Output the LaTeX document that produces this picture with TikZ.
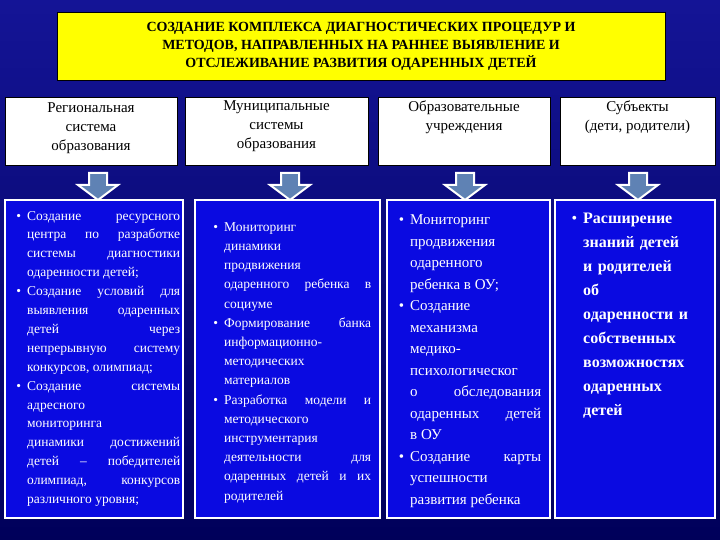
\documentclass[tikz,border=0pt]{standalone}
\usepackage{fontspec}
\setmainfont{Liberation Serif}
\usepackage{enumitem}
\definecolor{bgtop}{RGB}{20,20,150}
\definecolor{bgbot}{RGB}{0,0,90}
\definecolor{boxblue}{RGB}{10,10,225}
\definecolor{arrfill}{RGB}{95,130,180}
\definecolor{ttl}{RGB}{255,255,0}
\tikzset{
 hdr/.style={draw=black,fill=white,line width=0.6pt,inner sep=0pt},
 hdrtext/.style={anchor=north,align=center,font=\fontsize{15}{19}\selectfont,inner sep=0pt},
 colbox/.style={draw=white,fill=boxblue,line width=2.5pt,inner sep=0pt},
 coltext/.style={anchor=north west,text=white,inner sep=0pt,align=justify},
 arr/.style={draw=white,fill=arrfill,line width=2pt,line join=miter}
}
\newcommand{\arrowat}[1]{%
 \draw[arr] (#1-9,367) -- (#1+9,367) -- (#1+9,355) -- (#1+20,355) -- (#1,340) -- (#1-20,355) -- (#1-9,355) -- cycle;}
\newenvironment{blist}[1]{\begin{itemize}[leftmargin=#1,labelsep=6pt,itemsep=0pt,topsep=0pt,parsep=0pt,partopsep=0pt]}{\end{itemize}}
\begin{document}
\begin{tikzpicture}[x=1pt,y=1pt]
\shade[top color=bgtop,bottom color=bgbot] (0,0) rectangle (720,540);
\useasboundingbox (0,0) rectangle (720,540);
\node[draw=black,fill=ttl,line width=0.8pt,minimum width=608,minimum height=68,align=center,
 font=\bfseries\fontsize{14}{18}\selectfont] (title) at (361,494)
 {СОЗДАНИЕ КОМПЛЕКСА ДИАГНОСТИЧЕСКИХ ПРОЦЕДУР И\\МЕТОДОВ, НАПРАВЛЕННЫХ НА РАННЕЕ ВЫЯВЛЕНИЕ И\\ОТСЛЕЖИВАНИЕ РАЗВИТИЯ ОДАРЕННЫХ ДЕТЕЙ};
\node[hdr,minimum width=172,minimum height=68] (h1) at (91,409) {};
\node[hdr,minimum width=183,minimum height=68] (h2) at (276.5,409) {};
\node[hdr,minimum width=172,minimum height=68] (h3) at (464,409) {};
\node[hdr,minimum width=155,minimum height=68] (h4) at (637.5,409) {};
\node[hdrtext] (l1) at ([yshift=-6]h1.north) {Региональная\\система\\образования};
\node[hdrtext] (l2) at ([yshift=-4]h2.north) {Муниципальные\\системы\\образования};
\node[hdrtext] (l3) at ([yshift=-4]h3.north) {Образовательные\\учреждения};
\node[hdrtext] (l4) at ([yshift=-4]h4.north) {Субъекты\\(дети, родители)};
\arrowat{98}\arrowat{290}\arrowat{465}\arrowat{638}
\node[colbox,minimum width=178,minimum height=318] (c1) at (94,181) {};
\node[colbox,minimum width=185,minimum height=318] (c2) at (287.5,181) {};
\node[colbox,minimum width=163,minimum height=318] (c3) at (468.5,181) {};
\node[colbox,minimum width=160,minimum height=318] (c4) at (635,181) {};
\node[coltext,text width=167,font=\fontsize{13.5}{18.9}\selectfont] (t1) at (13,339) {\begin{blist}{14pt}
\item Создание ресурсного\linebreak центра по разработке\linebreak системы диагностики\linebreak одаренности детей;
\item Создание условий для\linebreak выявления одаренных\linebreak детей через\linebreak непрерывную систему\linebreak конкурсов, олимпиад;
\item Создание системы\linebreak адресного\newline мониторинга\newline динамики достижений\linebreak детей – победителей\linebreak олимпиад, конкурсов\linebreak различного уровня;
\end{blist}};
\node[coltext,text width=160,font=\fontsize{13.5}{19.2}\selectfont] (t2) at (211,328) {\begin{blist}{13pt}
\item Мониторинг\newline динамики\newline продвижения\newline одаренного ребенка в\linebreak социуме
\item Формирование банка\linebreak информационно-\newline методических\newline материалов
\item Разработка модели и\linebreak методического\newline инструментария\newline деятельности для\linebreak одаренных детей и их\linebreak родителей
\end{blist}};
\node[coltext,text width=146,font=\fontsize{15}{21.5}\selectfont] (t3) at (395,337) {\begin{blist}{15pt}
\item Мониторинг\newline продвижения\newline одаренного\newline ребенка в ОУ;
\item Создание\newline механизма\newline медико-\newline психологическог\newline о обследования\linebreak одаренных детей\linebreak в ОУ
\item Создание карты\linebreak успешности\newline развития ребенка
\end{blist}};
\node[coltext,text width=145,font=\bfseries\fontsize{16}{24}\selectfont,align=left] (t4) at (566,341) {\begin{blist}{17pt}
\item Расширение\\ знаний детей\\ и родителей\\ об\\ одаренности и\\ собственных\\ возможностях\\ одаренных\\ детей
\end{blist}};
\end{tikzpicture}
\end{document}
